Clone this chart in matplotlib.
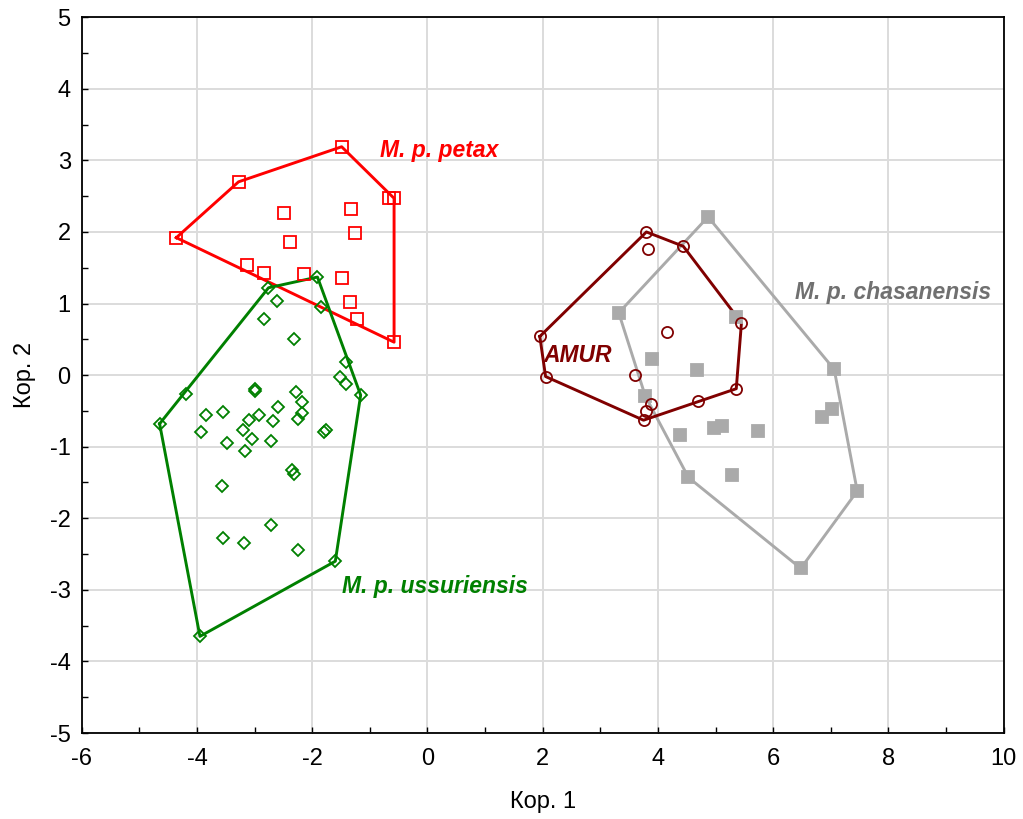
import numpy as np
import matplotlib
matplotlib.use("Agg")
import matplotlib.pyplot as plt
from matplotlib.ticker import MultipleLocator

# ---------------- data ----------------
petax_x = [-1.49, -3.28, -0.58, -0.66, -2.49, -1.33, -1.26, -4.36, -2.39, -3.14,
           -2.84, -2.15, -1.48, -1.35, -1.23, -0.58]
petax_y = [3.19, 2.70, 2.47, 2.47, 2.27, 2.32, 1.99, 1.92, 1.86, 1.54,
           1.43, 1.41, 1.35, 1.02, 0.79, 0.46]

ussur_x = [-2.76, -1.91, -2.62, -1.84, -2.83, -2.32, -4.20, -4.65, -3.00, -2.99,
           -1.41, -1.52, -1.41, -1.16, -2.29, -2.17, -2.60, -2.18, -2.24, -3.55,
           -3.84, -2.93, -3.09, -2.68, -3.20, -3.93, -3.04, -2.71, -3.48, -3.16,
           -1.76, -1.79, -2.36, -2.32, -3.56, -2.71, -3.55, -3.18, -2.24, -1.60,
           -3.95]
ussur_y = [1.22, 1.37, 1.04, 0.95, 0.79, 0.50, -0.27, -0.68, -0.20, -0.22,
           0.19, -0.02, -0.13, -0.28, -0.24, -0.38, -0.45, -0.53, -0.62, -0.52,
           -0.56, -0.56, -0.63, -0.64, -0.76, -0.80, -0.89, -0.92, -0.95, -1.06,
           -0.77, -0.80, -1.33, -1.38, -1.55, -2.10, -2.28, -2.34, -2.45, -2.60,
           -3.65]

amur_x = [3.80, 3.83, 4.44, 1.95, 4.16, 5.45, 2.05, 3.61, 5.36, 4.70, 3.88, 3.80, 3.75]
amur_y = [2.00, 1.76, 1.80, 0.54, 0.60, 0.73, -0.02, 0.00, -0.19, -0.36, -0.41, -0.50, -0.63]

chas_x = [4.87, 3.32, 5.35, 3.89, 4.68, 7.06, 3.78, 7.03, 6.84, 4.38,
          4.97, 5.11, 5.74, 4.53, 5.28, 7.46, 6.48]
chas_y = [2.21, 0.87, 0.81, 0.22, 0.07, 0.08, -0.29, -0.47, -0.59, -0.84,
          -0.74, -0.71, -0.78, -1.43, -1.40, -1.62, -2.70]

labels = ["M. p. petax", "M. p. ussuriensis", "AMUR", "M. p. chasanensis"]
label_x = [-0.83, -1.49, 2.02, 6.38]
label_y = [3.14, -2.96, 0.27, 1.15]


def convex_hull(xs, ys):
    pts = sorted(set(zip(xs, ys)))
    if len(pts) <= 2:
        return pts

    def cross(o, a, b):
        return (a[0] - o[0]) * (b[1] - o[1]) - (a[1] - o[1]) * (b[0] - o[0])

    lower, upper = [], []
    for p in pts:
        while len(lower) >= 2 and cross(lower[-2], lower[-1], p) <= 0:
            lower.pop()
        lower.append(p)
    for p in reversed(pts):
        while len(upper) >= 2 and cross(upper[-2], upper[-1], p) <= 0:
            upper.pop()
        upper.append(p)
    hull = lower[:-1] + upper[:-1]
    hull.append(hull[0])
    return hull


plt.rcParams['font.family'] = ['Liberation Sans', 'DejaVu Sans']
plt.rcParams['axes.unicode_minus'] = False

fig = plt.figure(figsize=(10.23, 8.19), dpi=100)
ax = fig.add_axes([0.080, 0.105, 0.901, 0.874])

ax.set_xlim(-6, 10)
ax.set_ylim(-5, 5)
ax.xaxis.set_major_locator(MultipleLocator(2))
ax.xaxis.set_minor_locator(MultipleLocator(1))
ax.yaxis.set_major_locator(MultipleLocator(1))
ax.yaxis.set_minor_locator(MultipleLocator(0.5))
ax.grid(True, which='major', color='#dcdcdc', linewidth=1.4, zorder=0)
ax.set_axisbelow(True)
ax.tick_params(which='both', direction='in', length=4, width=1, labelsize=17,
               color='black')
ax.tick_params(axis='x', pad=11)
ax.tick_params(axis='y', pad=8)
for s in ax.spines.values():
    s.set_linewidth(1.3)

groups = [
    (petax_x, petax_y, '#ff0000', 's', 'none', 8.5),
    (ussur_x, ussur_y, '#008000', 'D', 'none', 6),
    (chas_x, chas_y, '#aaaaaa', 's', '#aaaaaa', 8.5),
    (amur_x, amur_y, '#800000', 'o', 'none', 8),
]
for xs, ys, col, mk, fc, ms in groups:
    h = convex_hull(xs, ys)
    ax.plot([p[0] for p in h], [p[1] for p in h], color=col, linewidth=2.1, zorder=3)
    ax.plot(xs, ys, linestyle='none', marker=mk, markersize=ms,
            markerfacecolor=fc, markeredgecolor=col, markeredgewidth=1.3, zorder=4)

label_colors = ['#ff0000', '#008000', '#800000', '#707070']
for t, lx, ly, c in zip(labels, label_x, label_y, label_colors):
    ax.text(lx, ly, t, color=c, fontsize=16.5, fontweight='bold', style='italic',
            ha='left', va='center', zorder=5)

ax.set_xlabel('Кор. 1', fontsize=17, labelpad=15)
ax.set_ylabel('Кор. 2', fontsize=17, labelpad=10)

fig.savefig('out.png', dpi=100)
